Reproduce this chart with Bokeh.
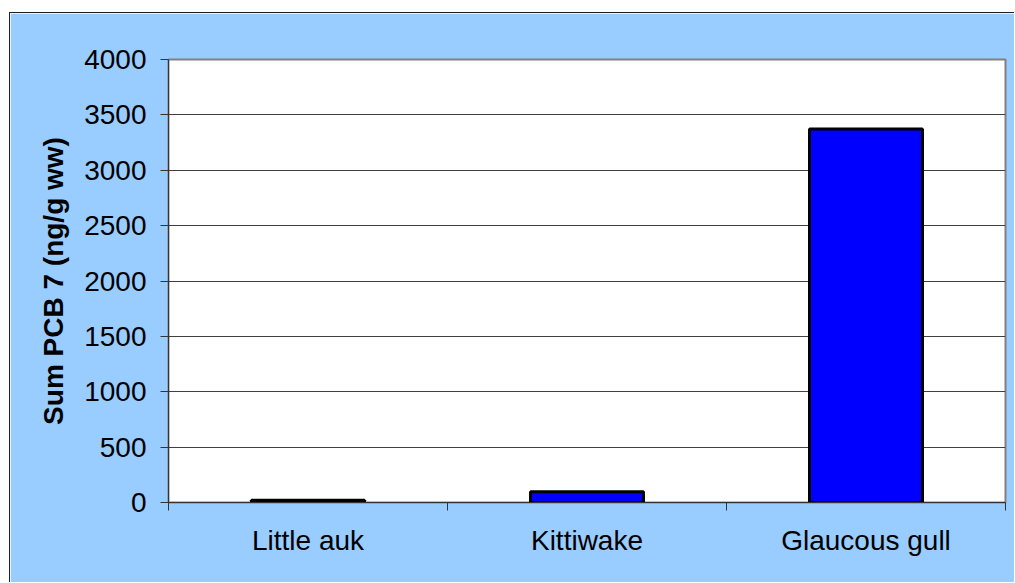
import numpy as np
from bokeh.plotting import figure
from bokeh.models import Range1d, FixedTicker, ColumnDataSource
from bokeh.embed import file_html
from bokeh.resources import INLINE

categories = ["Little auk", "Kittiwake", "Glaucous gull"]
values = [20, 96, 3372]
y_ticks = [0, 500, 1000, 1500, 2000, 2500, 3000, 3500, 4000]

x_centers = np.arange(len(categories)) + 0.5
src = ColumnDataSource(dict(x=x_centers, top=values, cat=categories))

p = figure(width=1005, height=570, output_backend="svg", toolbar_location=None,
           x_range=Range1d(0, len(categories)), y_range=Range1d(0, 4000),
           min_border_left=158, min_border_right=10, min_border_top=46, min_border_bottom=81)
p.styles = {"margin-left": "9px", "margin-top": "12px",
            "border-left": "1px solid #222222", "border-top": "1px solid #222222"}

p.border_fill_color = "#99CCFF"
p.background_fill_color = "white"
p.outline_line_color = "#808080"
p.outline_line_width = 2

p.vbar(x="x", top="top", width=0.405, bottom=0, source=src,
       fill_color="#0000FF", line_color="black", line_width=3)

FONT = "Liberation Sans"

# y axis
p.yaxis.ticker = FixedTicker(ticks=y_ticks)
p.yaxis.axis_line_color = "#333333"
p.yaxis.major_tick_out = 8
p.yaxis.major_tick_in = 0
p.yaxis.minor_tick_line_color = None
p.yaxis.major_tick_line_color = "#333333"
p.yaxis.major_label_text_font = FONT
p.yaxis.major_label_text_font_size = "28px"
p.yaxis.major_label_text_color = "black"
p.yaxis.major_label_standoff = 14
p.yaxis.axis_label = "Sum PCB 7 (ng/g ww)"
p.yaxis.axis_label_text_font = FONT
p.yaxis.axis_label_text_font_size = "28px"
p.yaxis.axis_label_text_font_style = "bold"
p.yaxis.axis_label_text_color = "black"
p.yaxis.axis_label_standoff = 12

# x axis: category labels at centres, ticks at category boundaries
p.xaxis.ticker = FixedTicker(ticks=list(x_centers),
                             minor_ticks=list(range(len(categories) + 1)))
p.xaxis.major_label_overrides = {float(c): n for c, n in zip(x_centers, categories)}
p.xaxis.major_tick_line_color = None
p.xaxis.minor_tick_line_color = "#333333"
p.xaxis.minor_tick_out = 8
p.xaxis.minor_tick_in = 0
p.xaxis.axis_line_color = "#333333"
p.xaxis.major_label_text_font = FONT
p.xaxis.major_label_text_font_size = "28px"
p.xaxis.major_label_text_color = "black"
p.xaxis.major_label_standoff = 14

p.xgrid.grid_line_color = None
p.ygrid.grid_line_color = "#404040"
p.ygrid.grid_line_width = 1

open("out.html", "w").write(file_html(p, INLINE))
